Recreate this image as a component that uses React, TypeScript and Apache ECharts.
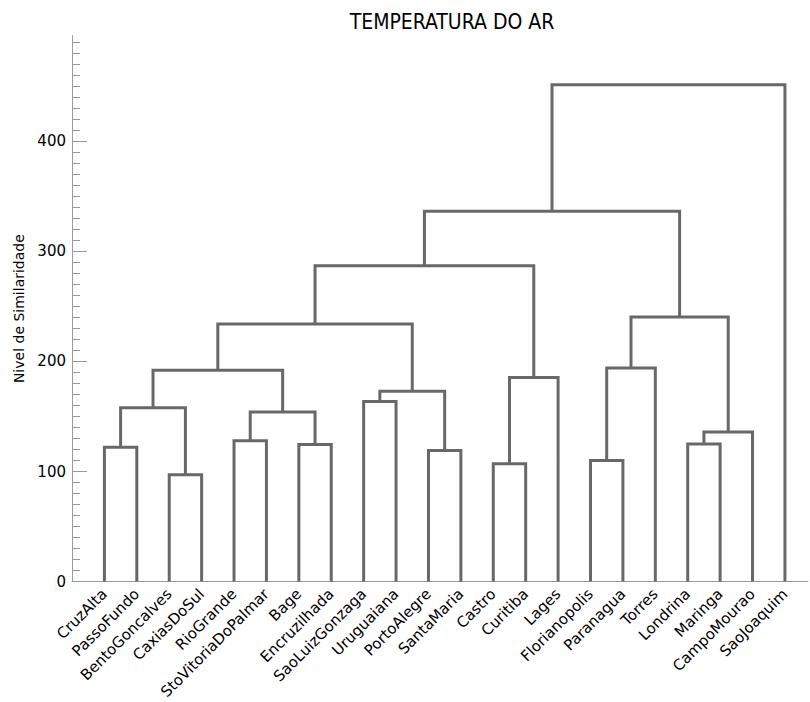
import React, { useEffect, useRef } from "react";
import * as echarts from "echarts";

const titleText = "TEMPERATURA DO AR";
const yAxisName = "Nivel de Similaridade";

const leaves = [
  "CruzAlta", "PassoFundo", "BentoGoncalves", "CaxiasDoSul", "RioGrande",
  "StoVitoriaDoPalmar", "Bage", "Encruzilhada", "SaoLuizGonzaga", "Uruguaiana",
  "PortoAlegre", "SantaMaria", "Castro", "Curitiba", "Lages", "Florianopolis",
  "Paranagua", "Torres", "Londrina", "Maringa", "CampoMourao", "SaoJoaquim",
];

// Linkage: child ids are leaf indices (0..21) or 22 + merge index
const mergeA = [0, 2, 22, 4, 6, 25, 24, 8, 10, 29, 28, 12, 33, 32, 15, 36, 18, 38, 37, 35, 41];
const mergeB = [1, 3, 23, 5, 7, 26, 27, 9, 11, 30, 31, 13, 14, 34, 16, 17, 19, 20, 39, 40, 21];
const mergeHeight = [122, 97, 158, 128, 124.5, 154, 192, 163.5, 119, 173, 234, 107, 185.5, 287, 110, 194, 125, 136, 240.5, 336.5, 451.5];

const yTickLabels = [0, 100, 200, 300, 400];

function buildSegments() {
  const nodeX: number[] = leaves.map((_, i) => i);
  const nodeH: number[] = leaves.map(() => 0);
  return mergeA.map((a, k) => {
    const b = mergeB[k];
    const h = mergeHeight[k];
    const seg = [nodeX[a], nodeH[a], nodeX[b], nodeH[b], h];
    nodeX.push((nodeX[a] + nodeX[b]) / 2);
    nodeH.push(h);
    return seg;
  });
}

const AXIS_COLOR = "#9a9a9a";
const LINE_COLOR = "#686868";
const FONT = "DejaVu Sans, Verdana, sans-serif";

export default function App() {
  const ref = useRef<HTMLDivElement>(null);
  useEffect(() => {
    if (!ref.current) return;
    const chart = echarts.init(ref.current, undefined, { renderer: "svg" });
    const segs = buildSegments();
    const bottom = 120.3;
    const pxPerUnit = 1.1008;
    const zeroY = 702 - bottom;
    const gridBase = { left: 72, right: 0, bottom };
    const hiddenX = (gi: number) => ({
      gridIndex: gi, type: "value", min: -1, max: 21.708, show: false,
    });
    const option: any = {
      animation: false,
      backgroundColor: "#ffffff",
      title: {
        text: titleText,
        left: 447,
        top: 6,
        textAlign: "center",
        textStyle: {
          fontFamily: "Liberation Sans Narrow, DejaVu Sans Condensed, sans-serif",
          fontSize: 21,
          fontWeight: "normal",
          color: "#000",
        },
      },
      grid: [
        { ...gridBase, top: zeroY - 496 * pxPerUnit },
        { ...gridBase, top: zeroY - 490 * pxPerUnit },
        { ...gridBase, top: zeroY - 400 * pxPerUnit },
      ],
      xAxis: [
        {
          gridIndex: 0,
          type: "value",
          min: -1,
          max: 21.708,
          interval: 1,
          axisLine: { show: true, onZero: true, lineStyle: { color: AXIS_COLOR, width: 1 } },
          axisTick: { show: false },
          splitLine: { show: false },
          axisLabel: {
            rotate: 45,
            margin: 10,
            fontSize: 15,
            fontFamily: FONT,
            color: "#000",
            showMinLabel: true,
            showMaxLabel: true,
            formatter: (v: number) => {
              const i = Math.round(v);
              return Math.abs(v - i) < 1e-6 && i >= 0 && i < leaves.length ? leaves[i] : "";
            },
          },
        },
        hiddenX(1),
        hiddenX(2),
      ],
      yAxis: [
        {
          gridIndex: 0,
          type: "value",
          min: 0,
          max: 496,
          interval: 100,
          axisLine: { show: true, onZero: false, lineStyle: { color: AXIS_COLOR, width: 1 } },
          axisTick: { show: false },
          splitLine: { show: false },
          axisLabel: {
            margin: 6,
            fontSize: 15,
            fontFamily: FONT,
            color: "#000",
            formatter: (v: number) => (yTickLabels.indexOf(v) >= 0 ? String(v) : ""),
          },
          name: yAxisName,
          nameLocation: "middle",
          nameGap: 46,
          nameTextStyle: { fontSize: 14, fontFamily: FONT, color: "#000" },
        },
        {
          gridIndex: 1,
          type: "value",
          min: 0,
          max: 490,
          interval: 10,
          axisLine: { show: false, onZero: false },
          axisTick: { show: true, inside: true, length: 8, lineStyle: { color: AXIS_COLOR, width: 1 } },
          axisLabel: { show: false },
          splitLine: { show: false },
        },
        {
          gridIndex: 2,
          type: "value",
          min: 0,
          max: 400,
          interval: 100,
          axisLine: { show: false, onZero: false },
          axisTick: { show: true, inside: true, length: 15, lineStyle: { color: AXIS_COLOR, width: 1 } },
          axisLabel: { show: false },
          splitLine: { show: false },
        },
      ],
      series: [
        {
          type: "custom",
          xAxisIndex: 0,
          yAxisIndex: 0,
          clip: false,
          data: segs,
          encode: { x: [0, 2], y: [1, 3, 4] },
          renderItem: (_params: any, api: any) => {
            const p1 = api.coord([api.value(0), api.value(1)]);
            const p2 = api.coord([api.value(0), api.value(4)]);
            const p3 = api.coord([api.value(2), api.value(4)]);
            const p4 = api.coord([api.value(2), api.value(3)]);
            return {
              type: "polyline",
              shape: { points: [p1, p2, p3, p4] },
              style: { stroke: LINE_COLOR, lineWidth: 3, fill: null, lineJoin: "miter" },
            };
          },
        },
      ],
    };
    chart.setOption(option);
    return () => chart.dispose();
  }, []);
  return (
    <div
      ref={ref}
      style={{ position: "fixed", left: 0, top: 0, width: 810, height: 702, background: "#fff" }}
    />
  );
}
